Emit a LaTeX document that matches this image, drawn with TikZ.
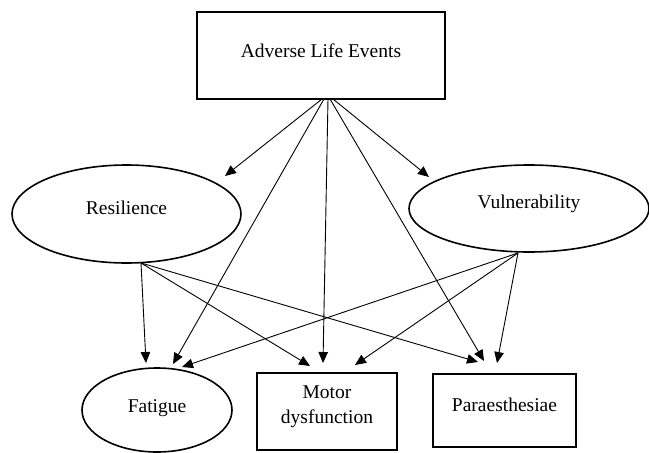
\documentclass[tikz,border=0pt]{standalone}
\usepackage{fontspec}
\setmainfont{Liberation Serif}
\usetikzlibrary{shapes.geometric,arrows.meta}
\begin{document}
\begin{tikzpicture}[x=1pt,y=-1pt,
  lbl/.style={font=\fontsize{19.5}{25}\selectfont, align=center, inner sep=0pt},
  boxnode/.style={draw, line width=1.3pt, rectangle, inner sep=0pt},
  ellnode/.style={draw, line width=1.6pt, ellipse, inner sep=0pt},
  conn/.style={line width=0.9pt, -{Triangle[length=11pt,width=9.5pt]}}
]
\useasboundingbox (0,0) rectangle (649,453);
% nodes
\node[boxnode, minimum width=248pt, minimum height=87pt,
      label={[lbl,yshift=5pt]center:Adverse Life Events}] (ale) at (321,55.5) {};
\node[ellnode, minimum width=229pt, minimum height=98pt,
      label={[lbl,yshift=6.5pt]center:Resilience}] (res) at (126.5,214) {};
\node[ellnode, minimum width=240pt, minimum height=87pt,
      label={[lbl,yshift=4.7pt]center:Vulnerability}] (vul) at (529,208.5) {};
\node[ellnode, minimum width=150pt, minimum height=84pt,
      label={[lbl,yshift=1.5pt]center:Fatigue}] (fat) at (157,410) {};
\node[boxnode, minimum width=140pt, minimum height=77pt,
      label={[lbl,yshift=4.5pt]center:Motor\\dysfunction}] (mot) at (327,411.5) {};
\node[boxnode, minimum width=143pt, minimum height=73pt,
      label={[lbl,yshift=6pt]center:Paraesthesiae}] (par) at (504.5,410.5) {};
% connector end points
\coordinate (aleR) at (322,99);
\coordinate (aleF) at (324,99);
\coordinate (aleM) at (328,99);
\coordinate (aleP) at (330,99);
\coordinate (aleV) at (333,99);
\coordinate (resS) at (141,263);
\coordinate (vulS) at (518,253);
\coordinate (tRes) at (225,176);
\coordinate (tVul) at (429,177);
\coordinate (tF1) at (146,363);
\coordinate (tF2) at (173,364);
\coordinate (tF3) at (182,367);
\coordinate (tM1) at (310,366);
\coordinate (tM2) at (323,363);
\coordinate (tM3) at (355,365);
\coordinate (tP1) at (478,362);
\coordinate (tP2) at (484,361);
\coordinate (tP3) at (497,363);
% connectors
\draw[conn] (aleR) -- (tRes);
\draw[conn] (aleV) -- (tVul);
\draw[conn] (aleF) -- (tF2);
\draw[conn] (aleM) -- (tM2);
\draw[conn] (aleP) -- (tP2);
\draw[conn] (resS) -- (tF1);
\draw[conn] (resS) -- (tM1);
\draw[conn] (resS) -- (tP1);
\draw[conn] (vulS) -- (tF3);
\draw[conn] (vulS) -- (tM3);
\draw[conn] (vulS) -- (tP3);
\end{tikzpicture}
\end{document}
